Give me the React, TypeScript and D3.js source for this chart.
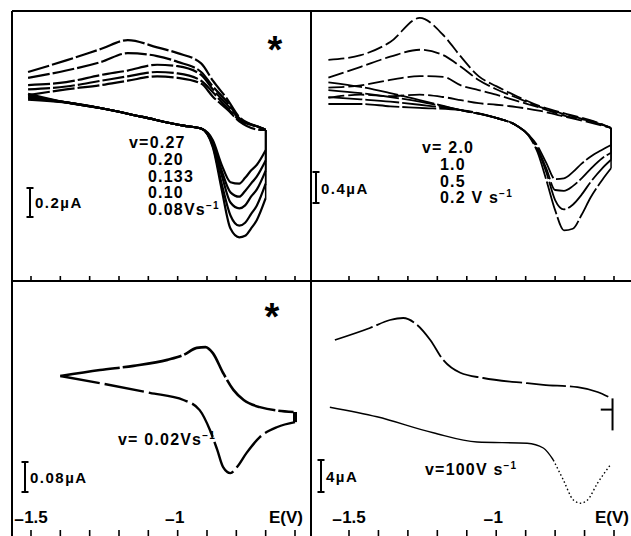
import React from "react";
import * as d3 from "d3";

// potential axis (V), shared by all four panels
const TICKS = [-1.5, -1.4, -1.3, -1.2, -1.1, -1.0, -0.9, -0.8, -0.7, -0.6];
const AXIS_LABELS = [-1.5, -1];

// panel 1: v = 0.27 ... 0.08 V/s, current in uA
const P1_RATES = ["v=0.27", "0.20", "0.133", "0.10", "0.08Vs"];
const P1_UP_E = [-1.51, -1.38, -1.26, -1.17, -1.07, -1.0, -0.92, -0.88, -0.83, -0.79, -0.71, -0.7];
const P1_UP = [
  [0.4, 0.48, 0.56, 0.62, 0.57, 0.53, 0.46, 0.34, 0.21, 0.09, 0.01, 0],
  [0.36, 0.41, 0.47, 0.53, 0.51, 0.47, 0.4, 0.3, 0.19, 0.08, 0.01, 0],
  [0.31, 0.33, 0.38, 0.41, 0.45, 0.44, 0.38, 0.28, 0.17, 0.08, 0.01, 0],
  [0.28, 0.3, 0.34, 0.37, 0.4, 0.39, 0.34, 0.26, 0.15, 0.07, 0.01, 0],
  [0.24, 0.28, 0.31, 0.34, 0.37, 0.36, 0.32, 0.23, 0.14, 0.06, 0.0, 0],
];
const P1_LOW_E = [-1.51, -1.38, -1.26, -1.12, -0.98, -0.92, -0.88, -0.85, -0.82, -0.79, -0.77, -0.75, -0.73, -0.7];
const P1_LOW = [
  [0.25, 0.19, 0.15, 0.09, 0.03, 0.01, -0.12, -0.41, -0.68, -0.74, -0.73, -0.68, -0.62, -0.47],
  [0.24, 0.19, 0.15, 0.09, 0.03, 0.01, -0.11, -0.37, -0.59, -0.66, -0.64, -0.58, -0.52, -0.37],
  [0.23, 0.19, 0.15, 0.09, 0.03, 0.01, -0.1, -0.31, -0.5, -0.54, -0.52, -0.46, -0.41, -0.28],
  [0.22, 0.19, 0.15, 0.09, 0.03, 0.01, -0.08, -0.28, -0.43, -0.46, -0.42, -0.37, -0.32, -0.21],
  [0.21, 0.19, 0.15, 0.09, 0.03, 0.01, -0.07, -0.24, -0.36, -0.37, -0.33, -0.28, -0.24, -0.14],
];

// panel 2: v = 2.0 ... 0.2 V/s
const P2_RATES = ["v= 2.0", "1.0", "0.5", "0.2 V s"];
const P2_UP_E = [-1.57, -1.46, -1.36, -1.26, -1.18, -1.12, -1.06, -1.0, -0.93, -0.85, -0.76, -0.67, -0.61];
const P2_UP = [
  [0.88, 0.94, 1.11, 1.42, 1.2, 0.92, 0.67, 0.54, 0.41, 0.28, 0.18, 0.09, 0],
  [0.65, 0.79, 0.92, 1.01, 0.94, 0.79, 0.62, 0.5, 0.39, 0.27, 0.17, 0.08, 0],
  [0.52, 0.55, 0.62, 0.67, 0.66, 0.55, 0.49, 0.43, 0.35, 0.26, 0.15, 0.08, 0],
  [0.39, 0.43, 0.41, 0.43, 0.4, 0.36, 0.32, 0.3, 0.27, 0.22, 0.14, 0.06, 0],
];
const P2_LOW_E = [-1.57, -1.46, -1.36, -1.26, -1.12, -1.0, -0.93, -0.89, -0.86, -0.83, -0.8, -0.77, -0.74, -0.71, -0.68, -0.64, -0.61];
const P2_LOW = [
  [0.59, 0.53, 0.45, 0.36, 0.23, 0.13, 0.03, -0.1, -0.31, -0.67, -1.06, -1.32, -1.3, -1.12, -0.9, -0.67, -0.52],
  [0.49, 0.45, 0.4, 0.34, 0.23, 0.13, 0.03, -0.09, -0.28, -0.57, -0.93, -1.05, -0.99, -0.86, -0.7, -0.52, -0.41],
  [0.4, 0.37, 0.34, 0.3, 0.23, 0.13, 0.03, -0.09, -0.26, -0.52, -0.8, -0.81, -0.75, -0.65, -0.53, -0.39, -0.32],
  [0.31, 0.31, 0.28, 0.26, 0.23, 0.13, 0.03, -0.09, -0.23, -0.45, -0.66, -0.65, -0.57, -0.46, -0.37, -0.28, -0.22],
];

// panel 3: v = 0.02 V/s
const P3_UP_E = [-1.4, -1.265, -1.15, -1.035, -0.98, -0.935, -0.905, -0.88, -0.845, -0.81, -0.775, -0.72, -0.605];
const P3_UP = [0.064, 0.08, 0.091, 0.107, 0.12, 0.139, 0.141, 0.125, 0.072, 0.027, 0.0, -0.019, -0.032];
const P3_LOW_E = [-1.4, -1.265, -1.095, -0.98, -0.925, -0.89, -0.865, -0.845, -0.82, -0.8, -0.765, -0.72, -0.66, -0.6];
const P3_LOW = [0.064, 0.045, 0.019, 0.0, -0.027, -0.08, -0.133, -0.179, -0.195, -0.181, -0.141, -0.099, -0.072, -0.059];

// panel 4: v = 100 V/s
const P4_UP_E = [-1.548, -1.429, -1.361, -1.316, -1.269, -1.224, -1.18, -1.122, -1.044, -0.895, -0.84, -0.724, -0.656, -0.619];
const P4_UP = [7.5, 9.0, 10.0, 10.25, 9.4, 7.5, 5.0, 3.4, 2.75, 2.1, 1.9, 1.6, 1.0, 0.4];
const P4_LOW_E = [-1.565, -1.405, -1.214, -1.065, -0.895, -0.84, -0.806];
const P4_LOW = [-0.9, -2.1, -4.1, -5.25, -5.4, -6.0, -7.5];
const P4_DOT_E = [-0.806, -0.772, -0.738, -0.714, -0.69, -0.656, -0.612];
const P4_DOT = [-7.5, -10, -12.5, -12.9, -12.5, -10.4, -8.1];

const FONT = "'Liberation Sans', Arial, Helvetica, sans-serif";
const FL = 12, FT = 11, MX = 311, MY = 281, W = 631, H = 536;

const xL = d3.scaleLinear().domain([-1.5, -0.6]).range([31, 295]);
const xR = d3.scaleLinear().domain([-1.5, -0.6]).range([349, 614]);
const y1 = d3.scaleLinear().domain([0, 1]).range([130, -15]);
const y2 = d3.scaleLinear().domain([0, 1]).range([128, 50.5]);
const y3 = d3.scaleLinear().domain([0, 0.08]).range([400, 370]);
const y4 = d3.scaleLinear().domain([0, 4]).range([400, 368]);

const zip = (es: number[], is: number[]) => es.map((e, i) => [e, is[i]] as [number, number]);
const mk = (x: any, y: any) =>
  d3.line<[number, number]>().x((d) => x(d[0])).y((d) => y(d[1])).curve(d3.curveMonotoneX);

function Bar({ x, yb, len, label }: { x: number; yb: number; len: number; label: string }) {
  return (
    <g>
      <line x1={x} x2={x} y1={yb} y2={yb - len} stroke="#000" strokeWidth={2} />
      <line x1={x - 3.5} x2={x + 3.5} y1={yb} y2={yb} stroke="#000" strokeWidth={2} />
      <line x1={x - 3.5} x2={x + 3.5} y1={yb - len} y2={yb - len} stroke="#000" strokeWidth={2} />
      <text x={x + 5} y={yb - len * 0.3} fontSize={15} fontWeight="bold" letterSpacing={1.5} fontFamily={FONT}>
        {label}
      </text>
    </g>
  );
}

function Star({ cx, cy }: { cx: number; cy: number }) {
  return (
    <text x={cx} y={cy + 21} fontSize={38} fontWeight="bold" textAnchor="middle" fontFamily={FONT}>
      *
    </text>
  );
}

function Sup({ children }: { children: string }) {
  return (
    <tspan fontSize={10} dy={-6}>
      {children}
    </tspan>
  );
}

export default function App() {
  const l1 = mk(xL, y1), l2 = mk(xR, y2), l3 = mk(xL, y3), l4 = mk(xR, y4);
  const blk = { fill: "none", stroke: "#000" };
  const txt = { fontFamily: FONT, fontWeight: "bold" as const, fontSize: 16, letterSpacing: 1.2 };

  return (
    <svg width={W} height={H} style={{ position: "absolute", left: 0, top: 0, background: "#fff" }}>
      <rect width={W} height={H} fill="#fff" />
      {/* frame */}
      <g stroke="#000" strokeWidth={2}>
        <line x1={FL} x2={FL} y1={FT} y2={H} />
        <line x1={MX} x2={MX} y1={FT} y2={H} />
        <line x1={FL} x2={W} y1={FT} y2={FT} />
        <line x1={FL} x2={W} y1={MY} y2={MY} />
      </g>
      {[xL, xR].map((x, k) => (
        <g key={k} stroke="#000" strokeWidth={1.6}>
          {TICKS.map((t) => (
            <g key={t}>
              <line x1={x(t)} x2={x(t)} y1={MY - 5} y2={MY} />
              <line x1={x(t)} x2={x(t)} y1={H - 6} y2={H} />
            </g>
          ))}
        </g>
      ))}
      {[xL, xR].map((x, k) => (
        <g key={"lab" + k} {...txt} fontSize={17} letterSpacing={0}>
          {AXIS_LABELS.map((v) => (
            <text key={v} x={x(v) - (v === -1 ? 3 : 0)} y={523} textAnchor="middle">
              <tspan dy={3}>{"\u2212"}</tspan>
              <tspan dy={-3}>{String(Math.abs(v))}</tspan>
            </text>
          ))}
          <text x={k === 0 ? 303 : 595} y={523} textAnchor={k === 0 ? "end" : "start"}>
            E(V)
          </text>
        </g>
      ))}

      {/* panel 1 */}
      {P1_UP.map((c, i) => (
        <path key={"u" + i} d={l1(zip(P1_UP_E, c)) || ""} {...blk} strokeWidth={2.2} strokeDasharray="22 3" />
      ))}
      {P1_LOW.map((c, i) => (
        <g key={"l" + i}>
          <path d={l1(zip(P1_LOW_E, c)) || ""} {...blk} strokeWidth={2.2} />
          <line x1={xL(-0.7)} x2={xL(-0.7)} y1={y1(c[c.length - 1])} y2={y1(0)} stroke="#000" strokeWidth={1.5} />
        </g>
      ))}
      <Star cx={275} cy={42} />
      <g {...txt}>
        {P1_RATES.map((r, i) => (
          <text key={r} x={i === 0 ? 129 : 148} y={148 + i * 16.8}>
            {r}
            {i === P1_RATES.length - 1 ? <Sup>{"\u22121"}</Sup> : null}
          </text>
        ))}
      </g>
      <Bar x={30} yb={217} len={y1(0) - y1(0.2)} label="0.2µA" />

      {/* panel 2 */}
      {P2_UP.map((c, i) => (
        <path key={"u2" + i} d={l2(zip(P2_UP_E, c)) || ""} {...blk} strokeWidth={1.8} strokeDasharray="16 4" />
      ))}
      {P2_LOW.map((c, i) => (
        <g key={"l2" + i}>
          <path d={l2(zip(P2_LOW_E, c)) || ""} {...blk} strokeWidth={1.8} strokeDasharray="34 3" />
          <line x1={xR(-0.61)} x2={xR(-0.61)} y1={y2(c[c.length - 1])} y2={y2(0)} stroke="#000" strokeWidth={1.5} />
        </g>
      ))}
      <g {...txt}>
        {P2_RATES.map((r, i) => (
          <text key={r} x={i === 0 ? 422 : 440} y={153 + i * 16.8}>
            {r}
            {i === P2_RATES.length - 1 ? <Sup>{"\u22121"}</Sup> : null}
          </text>
        ))}
      </g>
      <Bar x={316} yb={203} len={y2(0) - y2(0.4)} label="0.4µA" />

      {/* panel 3 */}
      <path d={l3(zip(P3_UP_E, P3_UP)) || ""} {...blk} strokeWidth={2.6} strokeDasharray="60 3" />
      <path d={l3(zip(P3_LOW_E, P3_LOW)) || ""} {...blk} strokeWidth={2.4} strokeDasharray="40 5" />
      <line x1={xL(-0.6)} x2={xL(-0.6)} y1={y3(-0.032)} y2={y3(-0.059)} stroke="#000" strokeWidth={4} />
      <Star cx={272} cy={309} />
      <text x={118} y={445} {...txt}>
        v= 0.02Vs<Sup>{"\u22121"}</Sup>
      </text>
      <Bar x={25} yb={492} len={y3(0) - y3(0.08)} label="0.08µA" />

      {/* panel 4 */}
      <path d={l4(zip(P4_UP_E, P4_UP)) || ""} {...blk} strokeWidth={1.8} strokeDasharray="40 4" />
      <path d={l4(zip(P4_LOW_E, P4_LOW)) || ""} {...blk} strokeWidth={1.4} />
      <path d={l4(zip(P4_DOT_E, P4_DOT)) || ""} {...blk} strokeWidth={1.4} strokeDasharray="1.5 2.5" />
      <line x1={xR(-0.605)} x2={xR(-0.605)} y1={y4(0.2)} y2={y4(-3.8)} stroke="#000" strokeWidth={2} />
      <line x1={xR(-0.645)} x2={xR(-0.605)} y1={y4(-1.2)} y2={y4(-1.2)} stroke="#000" strokeWidth={2} />
      <text x={425} y={475} {...txt}>
        v=100V s<Sup>{"\u22121"}</Sup>
      </text>
      <Bar x={321} yb={492} len={y4(0) - y4(4)} label="4µA" />
    </svg>
  );
}
